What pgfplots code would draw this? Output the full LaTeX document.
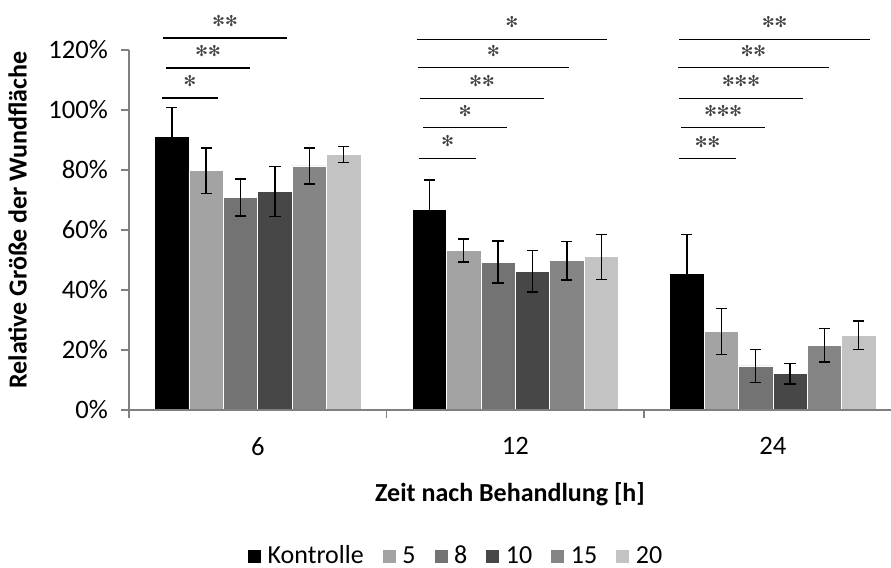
\documentclass[border=0pt]{standalone}
\usepackage{pgfplots}
\pgfplotsset{compat=1.18}
\usepackage{fontspec}
\setmainfont{Carlito}
\newfontfamily\symfont{DejaVu Sans}
\definecolor{cK}{HTML}{000000}
\definecolor{c5}{HTML}{A3A3A3}
\definecolor{c8}{HTML}{737373}
\definecolor{c10}{HTML}{474747}
\definecolor{c15}{HTML}{858585}
\definecolor{c20}{HTML}{C3C3C3}
\newcommand{\sig}[4]{\draw[line width=0.65pt, black] (axis cs:#1,#3) -- node[midway, anchor=center, inner sep=0pt, yshift=8.5pt, font=\symfont\fontsize{7.5}{9}\selectfont, text=black!75]{#4} (axis cs:#2,#3);}
\newcommand{\st}{✻}
\pgfplotsset{myleg/.style={legend image code/.code={\fill[##1] (0pt,-3.5pt) rectangle (7pt,3.5pt); \path (8pt,0pt);}}}
\begin{document}
\begin{tikzpicture}
\begin{axis}[
  name=ax,
  scale only axis, width=381pt, height=180pt,
  xmin=-0.5, xmax=2.459, ymin=0, ymax=120,
  axis x line*=bottom, axis y line*=left,
  axis on top,
  axis line style={draw=gray, line width=0.8pt},
  ytick={0,20,...,120},
  yticklabel={\pgfmathprintnumber[assume math mode=true]{\tick}\%},
  yticklabel style={xshift=-3pt},
  tick align=outside,
  major tick length=4pt,
  tick style={gray, line width=0.8pt},
  xtick={-0.5,0.5,1.5}, xticklabels={},
  extra x ticks={0,1,2}, extra x tick labels={6,12,24},
  extra x tick style={major tick length=0pt, xticklabel style={yshift=-10pt}},
  ticklabel style={font=\fontsize{13.3}{15}\selectfont, text=black},
  xlabel={Zeit nach Behandlung [h]},
  ylabel={Relative Größe der Wundfläche},
  label style={font=\bfseries\fontsize{13}{15}\selectfont},
  xlabel style={yshift=-3pt},
  ylabel style={yshift=4pt, xshift=5pt},
  clip=false,
  ybar, bar width=0.1335,
  every axis plot/.append style={draw=white, line width=0.3pt,
    /pgfplots/error bars/y dir=both, /pgfplots/error bars/y explicit,
    /pgfplots/error bars/error bar style={black, line width=0.7pt},
    /pgfplots/error bars/error mark options={rotate=90, black, line width=0.7pt, mark size=2.8pt}},
  legend entries={Kontrolle,5,8,10,15,20},
  legend style={at={(0.43,-0.406)}, anchor=center, draw=none,
    font=\fontsize{13}{15}\selectfont, legend columns=-1,
    /tikz/every even column/.append style={column sep=7pt}},
]
\addplot[fill=cK, bar shift=-0.33375, myleg] coordinates {(0,91.1) +- (0,9.8) (1,66.9) +- (0,9.7) (2,45.6) +- (0,13)};
\addplot[fill=c5, bar shift=-0.20025, myleg] coordinates {(0,79.8) +- (0,7.6) (1,53.2) +- (0,3.8) (2,26.2) +- (0,7.7)};
\addplot[fill=c8, bar shift=-0.06675, myleg] coordinates {(0,70.8) +- (0,6.2) (1,49.3) +- (0,7.0) (2,14.7) +- (0,5.5)};
\addplot[fill=c10, bar shift=0.06675, myleg] coordinates {(0,72.8) +- (0,8.3) (1,46.2) +- (0,6.9) (2,12.1) +- (0,3.4)};
\addplot[fill=c15, bar shift=0.20025, myleg] coordinates {(0,81.4) +- (0,6.0) (1,49.8) +- (0,6.4) (2,21.6) +- (0,5.6)};
\addplot[fill=c20, bar shift=0.33375, myleg] coordinates {(0,85.2) +- (0,2.6) (1,51.1) +- (0,7.5) (2,24.9) +- (0,4.8)};
\sig{-0.372}{-0.154}{104}{\st}
\sig{-0.356}{-0.030}{114}{\st\st}
\sig{-0.368}{0.114}{124}{\st\st}
\sig{0.626}{0.848}{83.9}{\st}
\sig{0.642}{0.968}{94.1}{\st}
\sig{0.630}{1.112}{103.9}{\st\st}
\sig{0.622}{1.209}{114.1}{\st}
\sig{0.618}{1.356}{123.6}{\st}
\sig{1.636}{1.857}{83.8}{\st\st}
\sig{1.644}{1.970}{94.1}{\st\st\st}
\sig{1.636}{2.117}{103.9}{\st\st\st}
\sig{1.632}{2.218}{114.1}{\st\st}
\sig{1.636}{2.378}{123.6}{\st\st}
\coordinate (o) at (rel axis cs:0,0);
\end{axis}
\pgfresetboundingbox
\path (o) ++(-64.5pt,-79pt) rectangle ++(445.5pt,284pt);
\end{tikzpicture}
\end{document}
